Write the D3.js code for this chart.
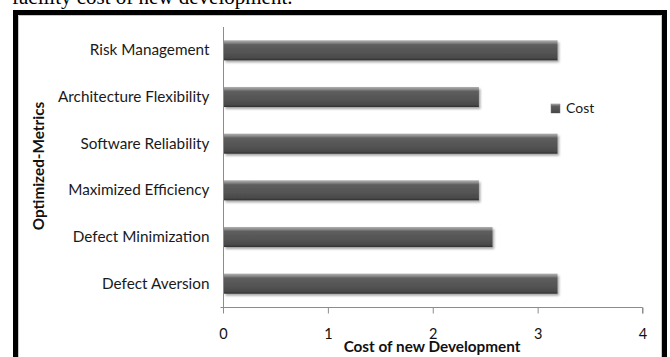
<!DOCTYPE html>
<html>
<head>
<meta charset="utf-8">
<script src="https://cdn.jsdelivr.net/npm/d3@7"></script>
<style>
  body { margin: 0; background: #fff; }
  svg text { font-family: Lato, "Open Sans", sans-serif; }
</style>
</head>
<body>
<div id="chart"></div>
<script>
// category order top to bottom
var metrics = ['Risk Management', 'Architecture Flexibility', 'Software Reliability',
  'Maximized Efficiency', 'Defect Minimization', 'Defect Aversion']
var cost = [3.19, 2.44, 3.19, 2.44, 2.57, 3.19]
var xTicks = [0, 1, 2, 3, 4]

var data = metrics.map(function(m, i){ return {metric: m, cost: cost[i]} })

var width = 670, height = 357

var svg = d3.select('#chart').append('svg')
  .attr('width', width).attr('height', height)

// gradient for the bevelled bars
var defs = svg.append('defs')
var grad = defs.append('linearGradient').attr('id', 'bar-grad')
  .attr('x1', 0).attr('y1', 0).attr('x2', 0).attr('y2', 1)
grad.selectAll('stop')
  .data([[0, '#b0b0b0'], [0.12, '#8a8a8a'], [0.22, '#5e5e5e'], [0.6, '#545454'], [0.88, '#4a4a4a'], [1, '#2e2e2e']])
  .enter().append('stop')
  .attr('offset', function(d){ return d[0] })
  .attr('stop-color', function(d){ return d[1] })

var shadow = defs.append('filter').attr('id', 'bar-shadow')
  .attr('x', '-5%').attr('y', '-30%').attr('width', '110%').attr('height', '180%')
shadow.append('feDropShadow').attr('dx', 1.5).attr('dy', 2).attr('stdDeviation', 1.2)
  .attr('flood-color', '#000').attr('flood-opacity', 0.35)

// text cut off above the figure (as in the source page)
svg.append('text').attr('x', 12).attr('y', 4)
  .style('font-family', '"Liberation Serif", "Times New Roman", serif')
  .style('font-size', '21px').attr('fill', '#000')
  .text('facility cost of new development.')

// frame
svg.append('path')
  .attr('d', 'M15.5,' + height + 'V12.5H664.5V' + height)
  .attr('fill', 'none').attr('stroke', '#000').attr('stroke-width', 5)
svg.append('path')
  .attr('d', 'M18.5,' + height + 'V15.5H661.5V' + height)
  .attr('fill', 'none').attr('stroke', '#c8c8c8').attr('stroke-width', 1)

var x = d3.scaleLinear().domain([0, 4]).range([223, 642.5])
var y = d3.scaleBand().domain(metrics).range([27, 307]).paddingInner(0.57).paddingOuter(0.285)

// x axis
var xAxis = svg.append('g').attr('transform', 'translate(0,307.5)')
  .call(d3.axisBottom(x).tickValues(xTicks).tickSize(6).tickPadding(15).tickFormat(d3.format('d')))
xAxis.select('.domain').attr('stroke', '#8c8c8c').attr('d', 'M' + x(0) + ',0H' + x(4) + 'V6')
xAxis.selectAll('.tick line').attr('stroke', '#8c8c8c')
xAxis.selectAll('.tick text').style('font-size', '14.5px').attr('fill', '#111')

// y axis
var yAxis = svg.append('g').attr('transform', 'translate(223.5,0)')
  .call(d3.axisLeft(y).tickSize(0).tickPadding(14))
yAxis.select('.domain').attr('stroke', '#8c8c8c').attr('d', 'M0,27V307.5H-3')
yAxis.selectAll('.tick text').style('font-size', '15.3px').attr('fill', '#1a1a1a')

// bars
svg.append('g').selectAll('rect').data(data).enter().append('rect')
  .attr('x', x(0) + 1)
  .attr('y', function(d){ return y(d.metric) })
  .attr('width', function(d){ return x(d.cost) - x(0) - 1 })
  .attr('height', y.bandwidth())
  .attr('fill', 'url(#bar-grad)')
  .attr('filter', 'url(#bar-shadow)')

// axis titles
svg.append('text').attr('x', 432).attr('y', 352)
  .attr('text-anchor', 'middle').style('font-size', '15.3px').style('font-weight', 'bold')
  .attr('fill', '#111').text('Cost of new Development')
svg.append('text').attr('transform', 'translate(44,166) rotate(-90)')
  .attr('text-anchor', 'middle').style('font-size', '15.3px').style('font-weight', 'bold')
  .attr('fill', '#111').text('Optimized-Metrics')

// legend
var leg = svg.append('g').attr('transform', 'translate(551,104)')
leg.append('rect').attr('width', 9).attr('height', 9)
  .attr('fill', 'url(#bar-grad)').attr('stroke', '#777').attr('stroke-width', 0.5)
leg.append('text').attr('x', 15).attr('y', 4.5).attr('dy', '0.35em')
  .style('font-size', '14px').attr('fill', '#1a1a1a').text('Cost')
</script>
</body>
</html>
